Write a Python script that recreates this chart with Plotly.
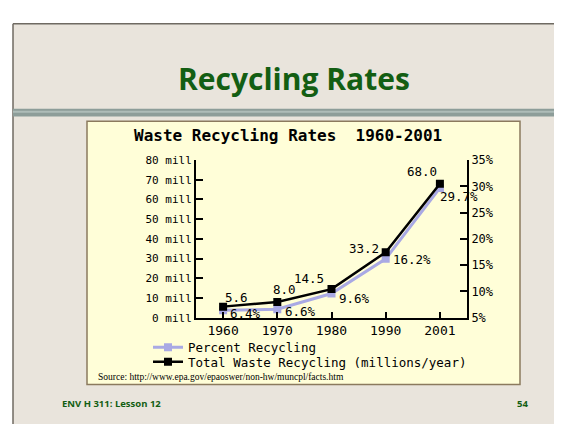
import plotly.graph_objects as go

# chart data
years = ["1960", "1970", "1980", "1990", "2001"]
total_recycled = [5.6, 8.0, 14.5, 33.2, 68.0]      # millions of tons / year
percent_recycled = [6.4, 6.6, 9.6, 16.2, 29.7]     # percent of waste

mill_ticks = [0, 10, 20, 30, 40, 50, 60, 70, 80]
mill_labels = ["0 mill", "10 mill", "20 mill", "30 mill", "40 mill",
               "50 mill", "60 mill", "70 mill", "80 mill"]
pct_ticks = [5, 10, 15, 20, 25, 30, 35]
pct_labels = ["5%", "10%", "15%", "20%", "25%", "30%", "35%"]

W, H = 562, 424
MONO = "DejaVu Sans Mono"
LAVENDER = "#A9A9E4"
GREEN = "#135E13"


def px(x):
    return x / W


def py(y):
    return 1 - y / H


fig = go.Figure()

# percent line sits on the base (right) axis so the black line is drawn over it
fig.add_trace(go.Scatter(
    x=years, y=percent_recycled, yaxis="y", name="Percent Recycling",
    mode="lines+markers", legend="legend",
    line=dict(color=LAVENDER, width=3),
    marker=dict(symbol="square", size=8, color=LAVENDER),
))
fig.add_trace(go.Scatter(
    x=years, y=total_recycled, yaxis="y2",
    name="Total Waste Recycling (millions/year)",
    mode="lines+markers", legend="legend2",
    line=dict(color="black", width=2.5),
    marker=dict(symbol="square", size=8, color="black"),
))

# label offsets in pixels (xanchor, xshift, yshift)
total_offsets = [("left", 0, 9), ("left", -6, 12), ("right", -6, 11),
                 ("right", -5, 4), ("right", -1, 12)]
pct_offsets = [("left", 5, -3), ("left", 6, -2), ("left", 5, -5),
               ("left", 5, -1), ("left", -2, -9)]

annotations = []
for i, (v, (xa, dx, dy)) in enumerate(zip(total_recycled, total_offsets)):
    annotations.append(dict(x=i, y=v, xref="x", yref="y2", text=f"{v:.1f}",
                            showarrow=False, xanchor=xa, yanchor="middle",
                            xshift=dx, yshift=dy,
                            font=dict(family=MONO, size=12.5, color="black")))
for i, (v, (xa, dx, dy)) in enumerate(zip(percent_recycled, pct_offsets)):
    annotations.append(dict(x=i, y=v, xref="x", yref="y", text=f"{v:.1f}%",
                            showarrow=False, xanchor=xa, yanchor="middle",
                            xshift=dx, yshift=dy,
                            font=dict(family=MONO, size=12.5, color="black")))

# slide texts
annotations += [
    dict(x=px(286), y=py(66), xref="paper", yref="paper", text="<b>Recycling Rates</b>",
         showarrow=False, xanchor="center", yanchor="middle",
         font=dict(family="Open Sans", size=30, color=GREEN)),
    dict(x=px(280), y=py(125), xref="paper", yref="paper",
         text="<b>Waste Recycling Rates  1960-2001</b>",
         showarrow=False, xanchor="center", yanchor="middle",
         font=dict(family=MONO, size=16, color="black")),
    dict(x=px(88), y=py(374), xref="paper", yref="paper",
         text="Source: http://www.epa.gov/epaoswer/non-hw/muncpl/facts.htm",
         showarrow=False, xanchor="left", yanchor="middle",
         font=dict(family="Liberation Serif", size=9.5, color="black")),
    dict(x=px(52), y=py(402), xref="paper", yref="paper", text="<b>ENV H 311: Lesson 12</b>",
         showarrow=False, xanchor="left", yanchor="middle",
         font=dict(family="Open Sans", size=9.5, color=GREEN)),
    dict(x=px(507), y=py(402), xref="paper", yref="paper", text="<b>54</b>",
         showarrow=False, xanchor="left", yanchor="middle",
         font=dict(family="Open Sans", size=9.5, color=GREEN)),
]

shapes = [
    # slide background with its top and left edges
    dict(type="rect", xref="paper", yref="paper", x0=px(5), x1=1, y0=0, y1=py(9),
         fillcolor="#E9E4DC", line=dict(width=0), layer="below"),
    dict(type="line", xref="paper", yref="paper", x0=px(5), x1=1, y0=py(9), y1=py(9),
         line=dict(color="#6F6A62", width=1.5), layer="below"),
    dict(type="line", xref="paper", yref="paper", x0=px(5), x1=px(5), y0=0, y1=py(9),
         line=dict(color="#6F6A62", width=1.5), layer="below"),
    # textured divider band
    dict(type="rect", xref="paper", yref="paper", x0=px(5), x1=1, y0=py(105), y1=py(97),
         fillcolor="#8D9D99", line=dict(width=0), layer="below"),
    dict(type="line", xref="paper", yref="paper", x0=px(5), x1=1, y0=py(100), y1=py(100),
         line=dict(color="#AEBCB8", width=2), layer="below"),
    # chart image frame
    dict(type="rect", xref="paper", yref="paper", x0=px(79), x1=px(512), y0=py(382), y1=py(110),
         fillcolor="#FFFED8", line=dict(color="#8B7A5E", width=1.5), layer="below"),
]

x_dom = [px(188), px(459)]
y_dom = [py(313), py(150)]

legend_style = dict(xanchor="left", yanchor="middle", bgcolor="rgba(0,0,0,0)",
                    borderwidth=0, font=dict(family=MONO, size=12.5, color="black"))

fig.update_layout(
    width=W, height=H,
    margin=dict(l=0, r=0, t=0, b=0),
    paper_bgcolor="white",
    plot_bgcolor="rgba(0,0,0,0)",
    showlegend=True,
    legend=dict(x=px(140), y=py(344), **legend_style),
    legend2=dict(x=px(140), y=py(359), **legend_style),
    xaxis=dict(type="category", categoryorder="array", categoryarray=years,
               range=[-0.5, 4.5], domain=x_dom, anchor="y",
               showline=True, linecolor="black", linewidth=2,
               ticks="inside", ticklen=6, tickwidth=1.5, tickcolor="black",
               showgrid=False, zeroline=False,
               tickfont=dict(family=MONO, size=13, color="black")),
    yaxis=dict(range=[5, 35], domain=y_dom, anchor="x", side="right",
               tickvals=pct_ticks, ticktext=pct_labels,
               showline=True, linecolor="black", linewidth=2,
               ticks="inside", ticklen=7, tickwidth=1.5, tickcolor="black",
               showgrid=False, zeroline=False,
               tickfont=dict(family=MONO, size=12, color="black")),
    yaxis2=dict(range=[0, 80], overlaying="y", anchor="x", side="left",
                tickvals=mill_ticks, ticktext=mill_labels,
                showline=True, linecolor="black", linewidth=2,
                ticks="inside", ticklen=7, tickwidth=1.5, tickcolor="black",
                showgrid=False, zeroline=False,
                tickfont=dict(family=MONO, size=11, color="black")),
    annotations=annotations,
    shapes=shapes,
)

fig.write_html("out.html")
